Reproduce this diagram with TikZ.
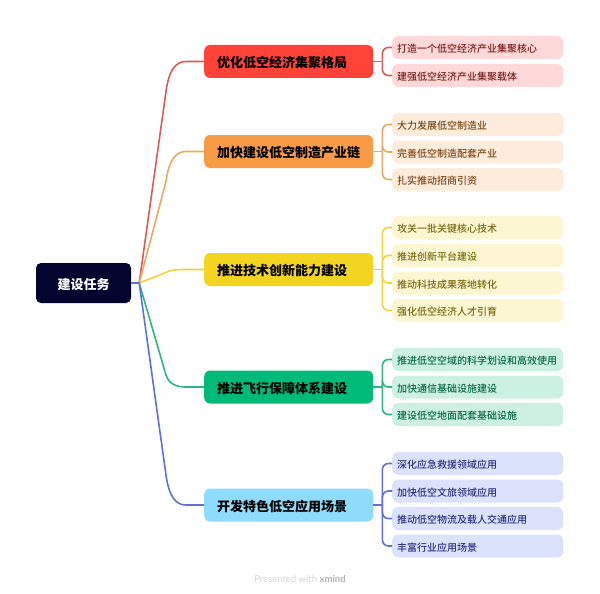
\documentclass[tikz,border=0pt]{standalone}
\usepackage{fontspec}
\usepackage{xcolor}
\setmainfont{Noto Sans CJK SC}
\newfontfamily\leaffont{Noto Sans CJK SC Medium}
\newfontfamily\latinfont{Lato}
\usetikzlibrary{calc}

\definecolor{rootfill}{HTML}{03052F}
\definecolor{fillred}{HTML}{FF4338}
\definecolor{fillorange}{HTML}{F89B47}
\definecolor{fillyellow}{HTML}{F2D421}
\definecolor{fillgreen}{HTML}{00BA77}
\definecolor{fillblue}{HTML}{8FDBFB}
\definecolor{linered}{HTML}{D95B5B}
\definecolor{lineorange}{HTML}{E8A961}
\definecolor{lineyellow}{HTML}{EFD53A}
\definecolor{linegreen}{HTML}{2DB585}
\definecolor{lineblue}{HTML}{5F70D8}
\definecolor{leafred}{HTML}{FFD9D9}
\definecolor{leaforange}{HTML}{FDEBDC}
\definecolor{leafyellow}{HTML}{FDF6D3}
\definecolor{leafgreen}{HTML}{CCF1E3}
\definecolor{leafblue}{HTML}{DDE2FC}
\definecolor{textred}{HTML}{7A1E1E}
\definecolor{textorange}{HTML}{7A4A1A}
\definecolor{textyellow}{HTML}{7A6A10}
\definecolor{textgreen}{HTML}{0A6A4A}
\definecolor{textblue}{HTML}{2A2F80}

\tikzset{
    rootbox/.style={fill=rootfill, text=white, rounded corners=5, minimum width=95, minimum height=40, inner sep=0, text height=12.5, text depth=0, font=\fontsize{13}{15}\selectfont\bfseries},
    branchbox/.style={fill=#1, anchor=west, rounded corners=6, text width=143, inner xsep=13, inner ysep=0, minimum height=33, text height=12.5, text depth=0, align=left, font=\fontsize{13}{15}\selectfont\bfseries},
    leafbox/.style={anchor=west, rounded corners=6, text width=161, inner xsep=5, inner ysep=0, minimum height=23, text height=10, text depth=0, align=left, font=\fontsize{10}{12}\leaffont},
    stemline/.style={line width=1.6, rounded corners=6}
}

\begin{document}
\begin{tikzpicture}[x=1pt, y=-1pt]
    \useasboundingbox (0,0) rectangle (600,594);

    % Draw the root and the main topics
    \node[rootbox] (root) at (83.5,283) {建设任务};
    \node[branchbox=fillred] (brancha) at (204,61.5) {优化低空经济集聚格局};
    \node[branchbox=fillorange] (branchb) at (204,151.5) {加快建设低空制造产业链};
    \node[branchbox=fillyellow] (branchc) at (204,269.5) {推进技术创新能力建设};
    \node[branchbox=fillgreen] (branchd) at (204,387) {推进飞行保障体系建设};
    \node[branchbox=fillblue] (branche) at (204,505) {开发特色低空应用场景};

    % Add the stubs behind the subtopic stems
    \foreach \b/\c in {brancha/linered, branchb/lineorange, branchc/lineyellow, branchd/linegreen, branche/lineblue}
        \draw[line width=1.6, \c] (\b.east) -- ++(9,0) coordinate (bus\b);

    % Add the subtopics with their stems
    \foreach \n/\y/\t in {a1/47.5/打造一个低空经济产业集聚核心, a2/75.5/建强低空经济产业集聚载体} {
        \node[leafbox, fill=leafred, text=textred] (leaf\n) at (392,\y) {\t};
        \draw[stemline, linered] (busbrancha) |- (leaf\n.west);
    }
    \foreach \n/\y/\t in {b1/124.5/大力发展低空制造业, b2/152/完善低空制造配套产业, b3/179.5/扎实推动招商引资} {
        \node[leafbox, fill=leaforange, text=textorange] (leaf\n) at (392,\y) {\t};
        \draw[stemline, lineorange] (busbranchb) |- (leaf\n.west);
    }
    \foreach \n/\y/\t in {c1/227.5/攻关一批关键核心技术, c2/255.5/推进创新平台建设, c3/283/推动科技成果落地转化, c4/310.5/强化低空经济人才引育} {
        \node[leafbox, fill=leafyellow, text=textyellow] (leaf\n) at (392,\y) {\t};
        \draw[stemline, lineyellow] (busbranchc) |- (leaf\n.west);
    }
    \foreach \n/\y/\t in {d1/359.5/推进低空空域的科学划设和高效使用, d2/387/加快通信基础设施建设, d3/414.5/建设低空地面配套基础设施} {
        \node[leafbox, fill=leafgreen, text=textgreen] (leaf\n) at (392,\y) {\t};
        \draw[stemline, linegreen] (busbranchd) |- (leaf\n.west);
    }
    \foreach \n/\y/\t in {e1/463.5/深化应急救援领域应用, e2/491/加快低空文旅领域应用, e3/518.5/推动低空物流及载人交通应用, e4/546/丰富行业应用场景} {
        \node[leafbox, fill=leafblue, text=textblue] (leaf\n) at (392,\y) {\t};
        \draw[stemline, lineblue] (busbranche) |- (leaf\n.west);
    }

    % Connect the root to the main topics
    \foreach \b/\c/\d in {brancha/linered/1, branchb/lineorange/1, branchc/lineyellow/0.1, branchd/linegreen/-0.4, branche/lineblue/-1} {
        \draw[line width=1.6, \c] (root.east) -- ++(8,0)
            -- ($(\b.west)+(-38,30*\d)$)
            .. controls ($(\b.west)+(-35,8*\d)$) and ($(\b.west)+(-28,0)$) .. ($(\b.west)+(-18,0)$)
            -- (\b.west);
    }

    % Add the footer
    \node[text=black!17, font=\fontsize{9.5}{11}\latinfont] (footer) at (300,579) {Presented with \textcolor{black!30}{\bfseries xmind}};
\end{tikzpicture}
\end{document}
